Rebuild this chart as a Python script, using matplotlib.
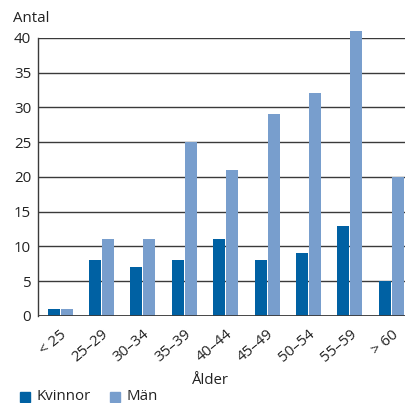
import matplotlib
matplotlib.use("Agg")
import matplotlib.pyplot as plt
import numpy as np
from matplotlib.patches import Rectangle

plt.rcParams['font.family'] = ['Open Sans', 'DejaVu Sans']

categories = ["< 25", "25–29", "30–34", "35–39", "40–44", "45–49", "50–54", "55–59", "> 60"]
kvinnor = [1, 8, 7, 8, 11, 8, 9, 13, 5]
man = [1, 11, 11, 25, 21, 29, 32, 41, 20]
yticks = [0, 5, 10, 15, 20, 25, 30, 35, 40]

c_kv = "#0061a3"
c_man = "#789ecd"
txt = "#222222"
fs = 10.8

fig = plt.figure(figsize=(4.05, 4.03), dpi=100)
ax = fig.add_axes([0.094, 0.216, 0.906, 0.690])

x = np.arange(len(categories))
w = 0.29
ax.bar(x - 0.157, kvinnor, w, color=c_kv, zorder=3, clip_on=False)
ax.bar(x + 0.157, man, w, color=c_man, zorder=3, clip_on=False)

ax.set_xlim(-0.53, 8.33)
ax.set_ylim(0, 40)
ax.set_yticks(yticks)
ax.yaxis.grid(True, color="#3a3a3a", linewidth=1.0, zorder=1)
ax.set_axisbelow(True)
for s in ["top", "right", "bottom"]:
    ax.spines[s].set_visible(False)
ax.spines["left"].set_color("#3a3a3a")
ax.spines["left"].set_linewidth(1.0)
ax.axhline(0, color="#3a3a3a", linewidth=2.0, zorder=4)

ax.tick_params(axis="both", length=0, labelsize=fs, colors=txt)
ax.tick_params(axis="y", pad=5)
ax.set_xticks(x)
ax.set_xticklabels(categories, rotation=40, ha="right", rotation_mode="anchor")
ax.tick_params(axis="x", pad=8)

fig.text(13 / 405, 1 - 18 / 403, "Antal", fontsize=fs, color=txt, va="center", ha="left")
fig.text(210 / 405, 1 - 380 / 403, "Ålder", fontsize=fs, color=txt, va="center", ha="center")

# legend
for xs, col, lab in [(20, c_kv, "Kvinnor"), (110, c_man, "Män")]:
    fig.patches.append(Rectangle((xs / 405, 1 - 402 / 403), 10 / 405, 10 / 403,
                                 transform=fig.transFigure, color=col))
    fig.text((xs + 17) / 405, 1 - 397 / 403, lab, fontsize=fs, color=txt,
             va="center", ha="left")

fig.savefig("out.png", dpi=100)
